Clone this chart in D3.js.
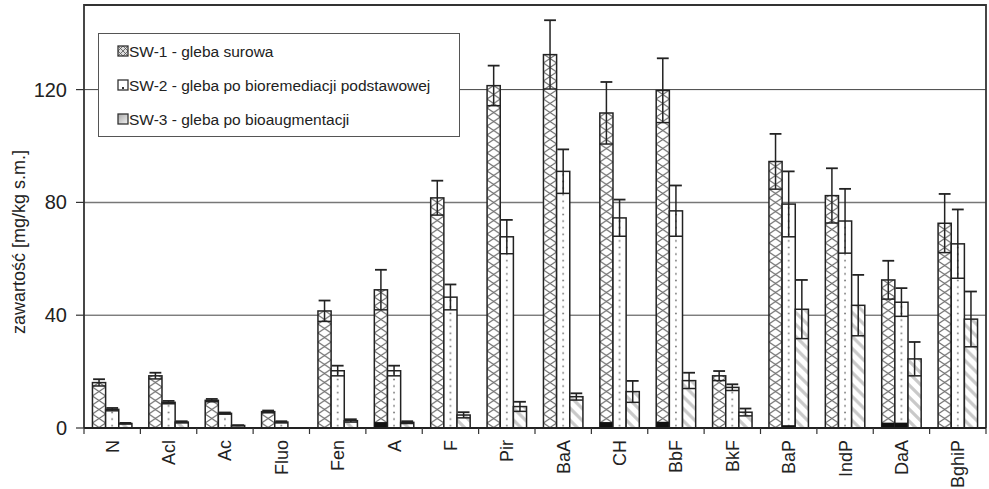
<!DOCTYPE html>
<html>
<head>
<meta charset="utf-8">
<script src="https://cdn.jsdelivr.net/npm/d3@7"></script>
<style>
  body { margin: 0; background: #fff; }
  svg { display: block; font-family: "Liberation Sans", Arial, sans-serif; }
</style>
</head>
<body>
<div id="chart"></div>
<script>
const categories = ["N", "Acl", "Ac", "Fluo", "Fen", "A", "F", "Pir", "BaA", "CH", "BbF", "BkF", "BaP", "IndP", "DaA", "BghiP"];
const seriesNames = ["SW-1 - gleba surowa", "SW-2 - gleba po bioremediacji podstawowej", "SW-3 - gleba po bioaugmentacji"];

// mean values [mg/kg s.m.]
const sw1 = [16.1, 18.5, 9.8, 5.8, 41.5, 49, 81.6, 121.4, 132.4, 111.7, 119.7, 18.5, 94.5, 82.4, 52.5, 72.6];
const sw2 = [6.6, 9.1, 5.2, 2.1, 20.3, 20.3, 46.4, 67.8, 91, 74.5, 77, 14.4, 79.4, 73.4, 44.6, 65.3];
const sw3 = [1.6, 2.1, 0.9, 0, 2.6, 2, 4.6, 7.6, 11.1, 12.9, 16.8, 5.6, 42.1, 43.5, 24.5, 38.6];

// standard deviations
const sw1Err = [1.2, 1.1, 0.5, 0.4, 3.7, 7.1, 6.1, 7.1, 12.2, 11, 11.4, 1.7, 9.8, 9.7, 6.8, 10.4];
const sw2Err = [0.5, 0.5, 0.3, 0.3, 1.8, 1.8, 4.5, 6, 7.8, 6.5, 9, 1.1, 11.6, 11.4, 5, 12.2];
const sw3Err = [0.2, 0.3, 0.1, 0, 0.5, 0.4, 1, 1.7, 1.2, 3.8, 2.8, 1.3, 10.4, 10.8, 6, 9.8];

// small dark segments at the bar bottoms
const sw1Dark = [0, 0, 0, 0, 0, 2.1, 0, 0, 0, 2.1, 2.2, 0, 0, 0, 1.9, 0];
const sw2Dark = [0, 0, 0, 0, 0, 0, 0, 0, 0, 0, 0, 0, 1, 0, 1.9, 0];
const sw3Dark = [0, 0, 0, 0, 0, 0, 0, 0, 0, 0, 0, 0, 0, 0, 0, 0];

const yTicks = [0, 40, 80, 120];

const width = 989, height = 489;
const margin = {top: 5, right: 3, bottom: 61, left: 84};

const svg = d3.select("#chart").append("svg")
    .attr("width", width)
    .attr("height", height);

const x0 = d3.scaleBand()
    .domain(categories)
    .range([margin.left, width - margin.right])
    .padding(0);

const x1 = d3.scaleBand()
    .domain([0, 1, 2])
    .range([x0.bandwidth() * 0.15, x0.bandwidth() * 0.85])
    .padding(0);

const y = d3.scaleLinear()
    .domain([0, 150])
    .range([height - margin.bottom, margin.top]);

const bw = x1.bandwidth();

// patterns
const defs = svg.append("defs");

const p1 = defs.append("pattern").attr("id", "pat1")
    .attr("patternUnits", "userSpaceOnUse")
    .attr("width", bw).attr("height", 9);
p1.append("rect").attr("width", bw).attr("height", 9).attr("fill", "#fff");
p1.append("path")
    .attr("d", `M0,0L${bw},9M${bw},0L0,9`)
    .attr("stroke", "#6e6e6e").attr("stroke-width", 1.1).attr("fill", "none");

const p2 = defs.append("pattern").attr("id", "pat2")
    .attr("patternUnits", "userSpaceOnUse")
    .attr("width", bw).attr("height", 6.6);
p2.append("rect").attr("width", bw).attr("height", 6.6).attr("fill", "#fff");
p2.append("circle").attr("cx", bw / 2).attr("cy", 3.3).attr("r", 0.9).attr("fill", "#777");

const p3 = defs.append("pattern").attr("id", "pat3")
    .attr("patternUnits", "userSpaceOnUse")
    .attr("width", 12).attr("height", 12);
p3.append("rect").attr("width", 12).attr("height", 12).attr("fill", "#fff");
p3.append("path")
    .attr("d", "M-3,-3L15,15M-3,9L3,15M9,-3L15,3")
    .attr("stroke", "#c9c9c9").attr("stroke-width", 3.2).attr("fill", "none");

// legend patterns
const lp1 = defs.append("pattern").attr("id", "lpat1")
    .attr("patternUnits", "userSpaceOnUse")
    .attr("width", 5).attr("height", 5);
lp1.append("rect").attr("width", 5).attr("height", 5).attr("fill", "#ddd");
lp1.append("path").attr("d", "M0,0L5,5M5,0L0,5")
    .attr("stroke", "#555").attr("stroke-width", 0.8);

const grad = defs.append("linearGradient").attr("id", "lgrad3")
    .attr("x1", 0).attr("y1", 0).attr("x2", 1).attr("y2", 1);
grad.append("stop").attr("offset", 0).attr("stop-color", "#a8a8a8");
grad.append("stop").attr("offset", 1).attr("stop-color", "#f2f2f2");

// gridlines
svg.append("g")
    .selectAll("line")
    .data(yTicks.filter(d => d > 0))
    .join("line")
    .attr("x1", margin.left).attr("x2", width - margin.right)
    .attr("y1", d => y(d)).attr("y2", d => y(d))
    .attr("stroke", d => d === 80 ? "#777" : "#444").attr("stroke-width", d => d === 80 ? 1.5 : 1);

// plot frame
svg.append("path")
    .attr("d", `M${margin.left},${y(0)}V${margin.top}H${width - margin.right}V${y(0)}`)
    .attr("fill", "none").attr("stroke", "#333").attr("stroke-width", 1.8);

// bars
const series = [
    {vals: sw1, err: sw1Err, dark: sw1Dark, fill: "url(#pat1)"},
    {vals: sw2, err: sw2Err, dark: sw2Dark, fill: "url(#pat2)"},
    {vals: sw3, err: sw3Err, dark: sw3Dark, fill: "url(#pat3)"}
];

const barData = [];
categories.forEach((c, i) => {
    series.forEach((s, k) => {
        barData.push({cat: c, k, v: s.vals[i], e: s.err[i], dark: s.dark[i], fill: s.fill});
    });
});

const bars = svg.append("g")
    .selectAll("g")
    .data(barData.filter(d => d.v > 0))
    .join("g")
    .attr("transform", d => `translate(${x0(d.cat) + x1(d.k)},0)`);

bars.append("rect")
    .attr("x", 0).attr("width", bw)
    .attr("y", d => y(d.v))
    .attr("height", d => y(0) - y(d.v))
    .attr("fill", d => d.fill)
    .attr("stroke", "#222").attr("stroke-width", 1.5);

bars.filter(d => d.dark > 0).append("rect")
    .attr("x", 0).attr("width", bw)
    .attr("y", d => y(d.dark))
    .attr("height", d => y(0) - y(d.dark))
    .attr("fill", "#111");

const errBars = bars.filter(d => d.e > 0);

errBars.append("line")
    .attr("x1", 0).attr("x2", bw)
    .attr("y1", d => y(Math.max(0, d.v - d.e))).attr("y2", d => y(Math.max(0, d.v - d.e)))
    .attr("stroke", "#222").attr("stroke-width", 1.5);

errBars.append("line")
    .attr("x1", bw / 2).attr("x2", bw / 2)
    .attr("y1", d => y(Math.max(0, d.v - d.e))).attr("y2", d => y(d.v + d.e))
    .attr("stroke", "#222").attr("stroke-width", 1.5);

errBars.append("line")
    .attr("x1", bw * 0.05).attr("x2", bw * 0.95)
    .attr("y1", d => y(d.v + d.e)).attr("y2", d => y(d.v + d.e))
    .attr("stroke", "#222").attr("stroke-width", 1.8);

// y axis
const yAxis = svg.append("g");
yAxis.selectAll("line")
    .data(yTicks)
    .join("line")
    .attr("x1", margin.left - 8).attr("x2", margin.left)
    .attr("y1", d => y(d)).attr("y2", d => y(d))
    .attr("stroke", "#333").attr("stroke-width", 1.2);
yAxis.selectAll("text")
    .data(yTicks)
    .join("text")
    .attr("x", 67).attr("y", d => y(d) + 7)
    .attr("text-anchor", "end")
    .attr("font-size", 20)
    .attr("fill", "#222")
    .text(d => d);

svg.append("text")
    .attr("transform", `translate(25,${242}) rotate(-90)`)
    .attr("text-anchor", "middle")
    .attr("font-size", 18)
    .attr("fill", "#222")
    .text("zawartość [mg/kg s.m.]");

// x axis
svg.append("line")
    .attr("x1", margin.left).attr("x2", width - margin.right)
    .attr("y1", y(0)).attr("y2", y(0))
    .attr("stroke", "#222").attr("stroke-width", 2);

svg.append("g")
    .selectAll("line")
    .data(categories)
    .join("line")
    .attr("x1", d => x0(d) + x0.bandwidth())
    .attr("x2", d => x0(d) + x0.bandwidth())
    .attr("y1", y(0)).attr("y2", y(0) + 6)
    .attr("stroke", "#333").attr("stroke-width", 1.2);
svg.append("line")
    .attr("x1", margin.left).attr("x2", margin.left)
    .attr("y1", y(0)).attr("y2", y(0) + 6)
    .attr("stroke", "#333").attr("stroke-width", 1.2);

svg.append("g")
    .selectAll("text")
    .data(categories)
    .join("text")
    .attr("transform", d => `translate(${x0(d) + x0.bandwidth() / 2 + 6.5},${y(0) + 12}) rotate(-90)`)
    .attr("text-anchor", "end")
    .attr("font-size", 18)
    .attr("fill", "#222")
    .text(d => d);

// legend
const legend = svg.append("g");
legend.append("rect")
    .attr("x", 98.5).attr("y", 33.5)
    .attr("width", 361).attr("height", 103)
    .attr("fill", "#fff")
    .attr("stroke", "#555").attr("stroke-width", 1);

const legFills = ["url(#lpat1)", "#fff", "url(#lgrad3)"];
const legRows = legend.selectAll("g")
    .data(seriesNames)
    .join("g")
    .attr("transform", (d, i) => `translate(118,${51 + i * 34})`);

legRows.append("rect")
    .attr("x", 0).attr("y", -5).attr("width", 10).attr("height", 10)
    .attr("fill", (d, i) => legFills[i])
    .attr("stroke", "#333").attr("stroke-width", 1.3);
legRows.filter((d, i) => i === 1).append("rect")
    .attr("x", 4).attr("y", 2).attr("width", 2).attr("height", 2).attr("fill", "#333");

legRows.append("text")
    .attr("x", 11).attr("y", 5.5)
    .attr("font-size", 15.5)
    .attr("fill", "#222")
    .text(d => d);
</script>
</body>
</html>
